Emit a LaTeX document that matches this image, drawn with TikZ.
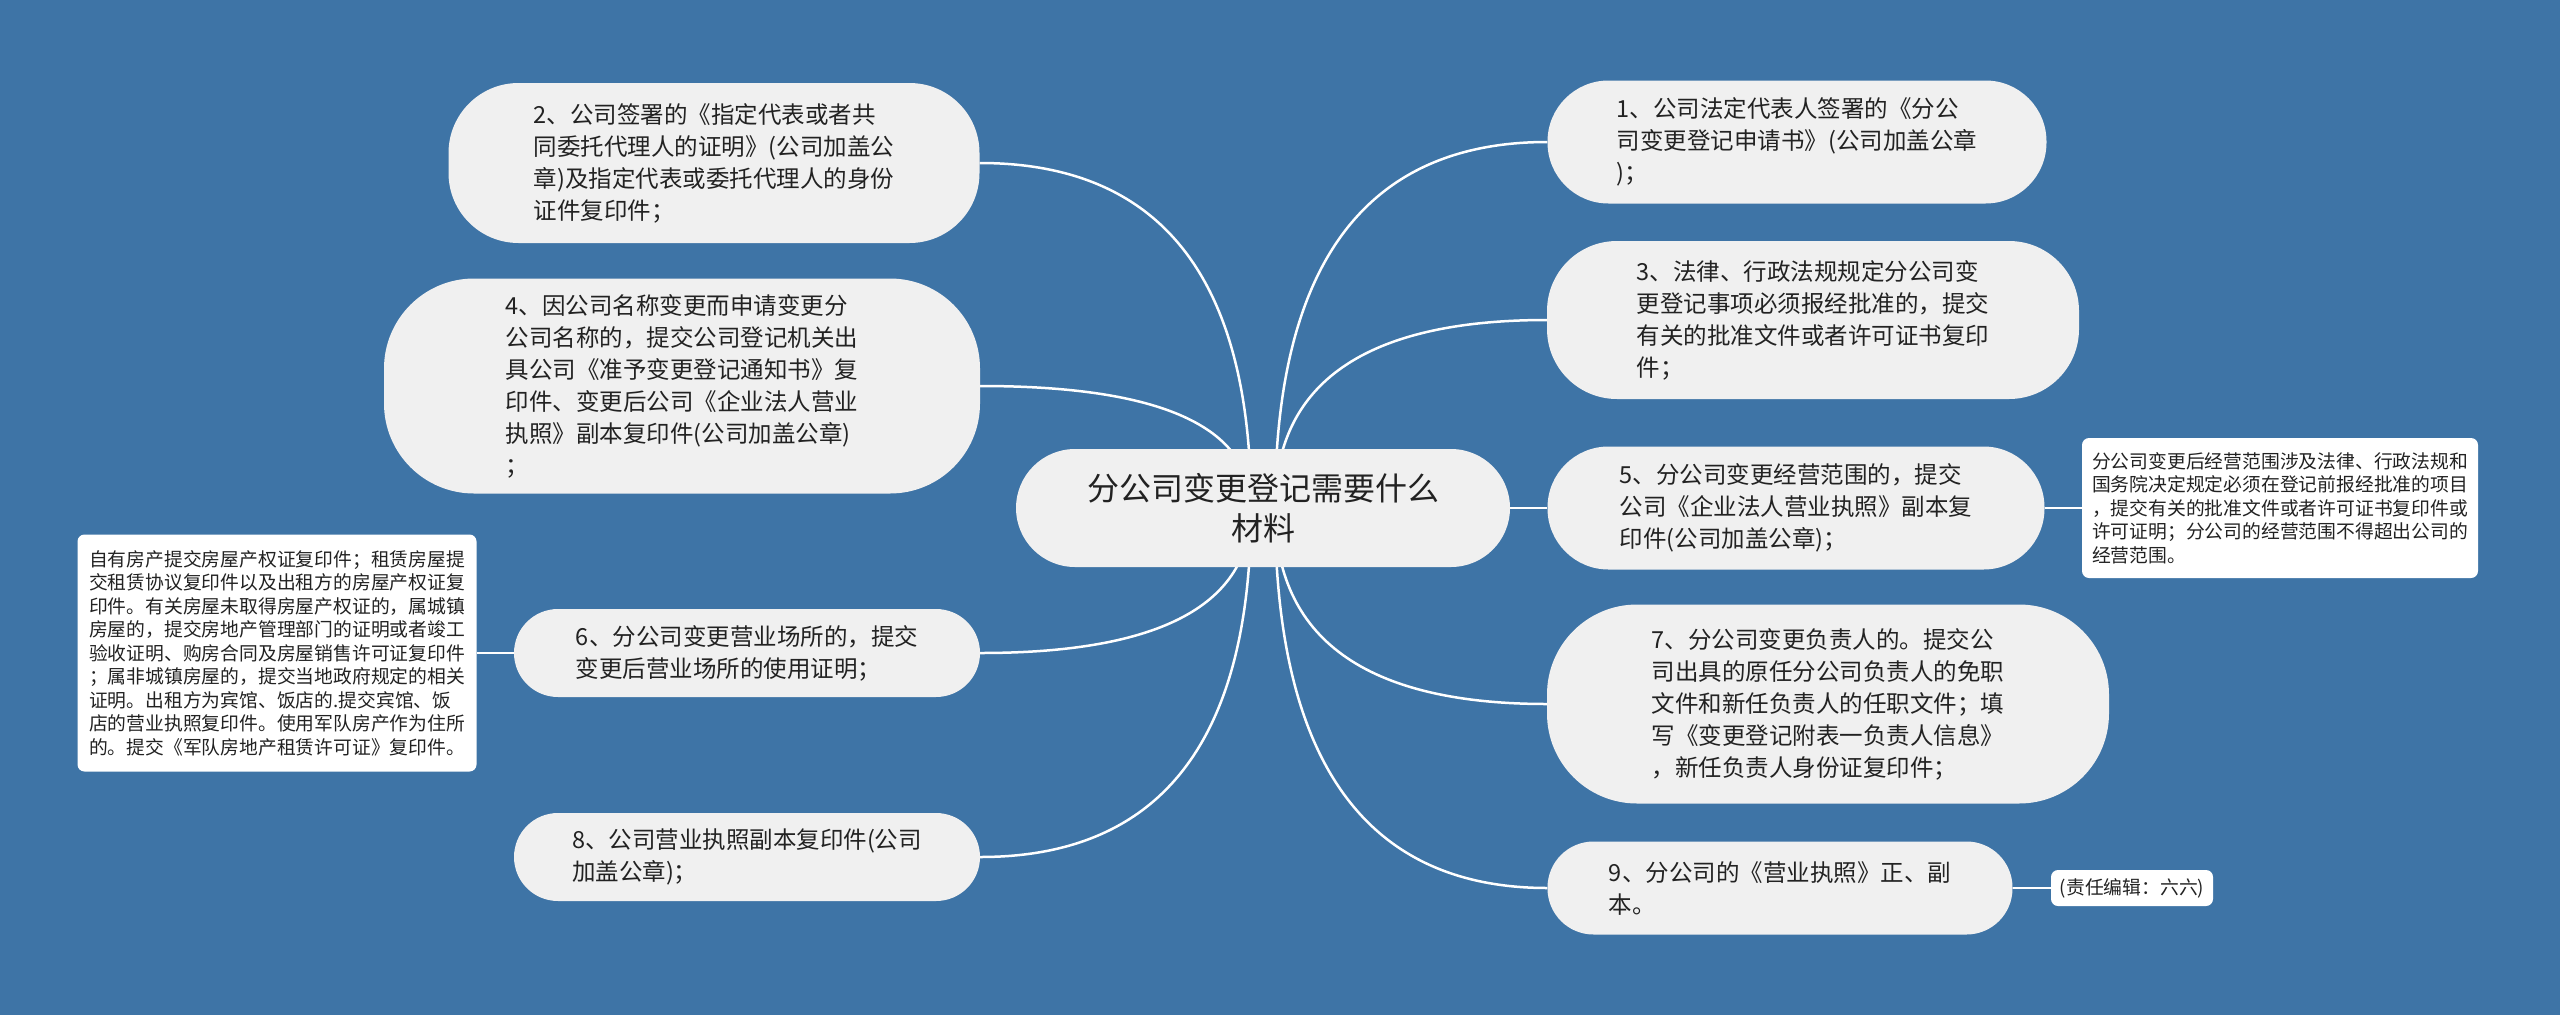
\documentclass[tikz,border=0pt]{standalone}
\usepackage{fontspec}
\setmainfont{Noto Sans CJK SC}
\usetikzlibrary{calc}
\pgfdeclarelayer{back}
\pgfdeclarelayer{bg}
\pgfsetlayers{back,bg,main}
\definecolor{bgblue}{HTML}{3E74A6}
\definecolor{nodefill}{HTML}{F0F0F0}
\definecolor{txt}{HTML}{222222}
\newcommand\mmlink[2]{\draw[conn] (#1) .. controls ($(#1)!0.667!(#1|-#2)$) and ($(#2)!0.667!(#1|-#2)$) .. (#2);}
\begin{document}
\begin{tikzpicture}[x=1pt,y=-1pt,
  topic/.style={fill=nodefill, text=txt, align=left, inner sep=0pt, font=\fontsize{23.5}{32}\selectfont},
  root/.style={fill=nodefill, text=txt, align=center, inner sep=0pt, font=\fontsize{32}{40}\selectfont},
  note/.style={fill=white, rounded corners=7pt, align=left, inner sep=0pt, text=txt, font=\fontsize{18.8}{23.5}\selectfont},
  conn/.style={draw=white, line width=2.5pt}]
\begin{pgfonlayer}{back}
\fill[bgblue] (0,0) rectangle (2560,1015);
\end{pgfonlayer}
\useasboundingbox (0,0) rectangle (2560,1015);

% root
\node[root, minimum width=494pt, minimum height=118pt, rounded corners=59pt] (root) at (1263,508) {分公司变更登记需要什么\\材料};
\coordinate (cR) at (1275,508);
\coordinate (cL) at (1251,508);

% left topics
\node[topic, minimum width=531pt, minimum height=160pt, rounded corners=70pt] (n2) at (714,163)
{2、公司签署的《指定代表或者共\\同委托代理人的证明》(公司加盖公\\章)及指定代表或委托代理人的身份\\证件复印件；};
\node[topic, minimum width=596pt, minimum height=215pt, rounded corners=90pt] (n4) at (682,386)
{4、因公司名称变更而申请变更分\\公司名称的，提交公司登记机关出\\具公司《准予变更登记通知书》复\\印件、变更后公司《企业法人营业\\执照》副本复印件(公司加盖公章)\\；};
\node[topic, minimum width=466pt, minimum height=88pt, rounded corners=44pt] (n6) at (747,653)
{6、分公司变更营业场所的，提交\\变更后营业场所的使用证明；};
\node[topic, minimum width=466pt, minimum height=88pt, rounded corners=44pt] (n8) at (747,857)
{8、公司营业执照副本复印件(公司\\加盖公章)；};

% right topics
\node[topic, minimum width=499pt, minimum height=123pt, rounded corners=61pt] (n1) at (1797,142)
{1、公司法定代表人签署的《分公\\司变更登记申请书》(公司加盖公章\\)；};
\node[topic, minimum width=532pt, minimum height=158pt, rounded corners=70pt] (n3) at (1813,320)
{3、法律、行政法规规定分公司变\\更登记事项必须报经批准的，提交\\有关的批准文件或者许可证书复印\\件；};
\node[topic, minimum width=497pt, minimum height=123pt, rounded corners=61pt] (n5) at (1796,508)
{5、分公司变更经营范围的，提交\\公司《企业法人营业执照》副本复\\印件(公司加盖公章)；};
\node[topic, minimum width=562pt, minimum height=199pt, rounded corners=90pt] (n7) at (1828,704)
{7、分公司变更负责人的。提交公\\司出具的原任分公司负责人的免职\\文件和新任负责人的任职文件；填\\写《变更登记附表一负责人信息》\\，新任负责人身份证复印件；};
\node[topic, minimum width=465pt, minimum height=93pt, rounded corners=46pt] (n9) at (1780,888)
{9、分公司的《营业执照》正、副\\本。};

% notes
\node[note, minimum width=399pt, minimum height=237pt] (lnote) at (277,653)
{自有房产提交房屋产权证复印件；租赁房屋提\\交租赁协议复印件以及出租方的房屋产权证复\\印件。有关房屋未取得房屋产权证的，属城镇\\房屋的，提交房地产管理部门的证明或者竣工\\验收证明、购房合同及房屋销售许可证复印件\\；属非城镇房屋的，提交当地政府规定的相关\\证明。出租方为宾馆、饭店的.提交宾馆、饭\\店的营业执照复印件。使用军队房产作为住所\\的。提交《军队房地产租赁许可证》复印件。};
\node[note, minimum width=396pt, minimum height=140pt] (rnote) at (2280,508)
{分公司变更后经营范围涉及法律、行政法规和\\国务院决定规定必须在登记前报经批准的项目\\，提交有关的批准文件或者许可证书复印件或\\许可证明；分公司的经营范围不得超出公司的\\经营范围。};
\node[note, minimum width=162pt, minimum height=36pt] (enote) at (2132,888)
{(责任编辑：六六)};

\begin{pgfonlayer}{bg}
\mmlink{cR}{n1.west}
\mmlink{cR}{n3.west}
\mmlink{cR}{n5.west}
\mmlink{cR}{n7.west}
\mmlink{cR}{n9.west}
\mmlink{cL}{n2.east}
\mmlink{cL}{n4.east}
\mmlink{cL}{n6.east}
\mmlink{cL}{n8.east}
\draw[conn] (n6.west) -- (lnote.east);
\draw[conn] (n5.east) -- (rnote.west);
\draw[conn] (n9.east) -- (enote.west);
\end{pgfonlayer}
\end{tikzpicture}
\end{document}
